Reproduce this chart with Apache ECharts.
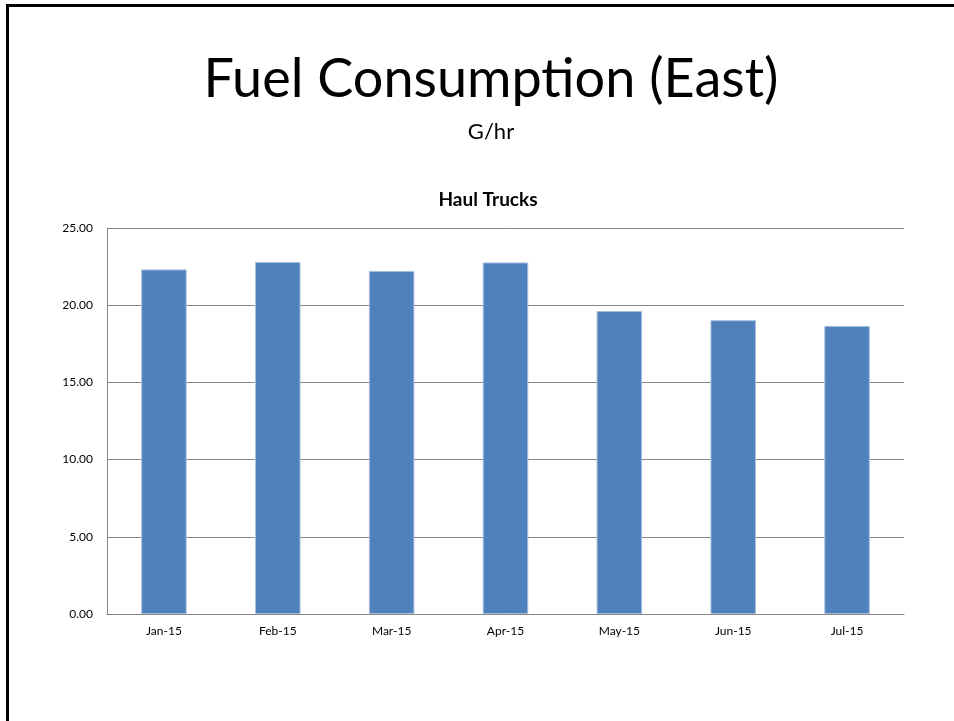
<!DOCTYPE html>
<html>
<head>
<meta charset="utf-8">
<script src="https://cdn.jsdelivr.net/npm/echarts@6/dist/echarts.min.js"></script>
<style>
  html, body { margin: 0; padding: 0; background: #fff; }
  #slide {
    position: relative;
    width: 954px;
    height: 721px;
    overflow: hidden;
  }
  .frame {
    position: absolute;
    left: 6px;
    top: 4px;
    width: 1000px;
    height: 800px;
    border-left: 3px solid #000;
    border-top: 3px solid #000;
  }
  #main {
    position: absolute;
    left: 0;
    top: 0;
    width: 954px;
    height: 721px;
  }
</style>
</head>
<body>
<div id="slide">
  <div class="frame"></div>
  <div id="main"></div>
</div>
<script>
const months = ['Jan-15', 'Feb-15', 'Mar-15', 'Apr-15', 'May-15', 'Jun-15', 'Jul-15']
const haulTrucks = [22.32, 22.8, 22.22, 22.77, 19.62, 19.03, 18.66]
const yTicks = { min: 0, max: 25, interval: 5 }

const font = 'Lato, "Open Sans", sans-serif'
const chart = echarts.init(document.getElementById('main'))

const option = {
  animation: false,
  title: [
    {
      text: 'Fuel Consumption (East)',
      left: 486,
      top: 48,
      textAlign: 'center',
      textStyle: { fontFamily: font, fontSize: 54, fontWeight: 'normal', color: '#000' },
    },
    {
      text: 'G/hr',
      left: 486,
      top: 116,
      textAlign: 'center',
      textStyle: { fontFamily: font, fontSize: 22, fontWeight: 'normal', color: '#000' },
    },
    {
      text: 'Haul Trucks',
      left: 483,
      top: 185,
      textAlign: 'center',
      textStyle: { fontFamily: font, fontSize: 19, fontWeight: 'bold', color: '#000' },
    },
  ],
  grid: {
    left: 107,
    right: 50,
    top: 228,
    bottom: 107,
  },
  xAxis: {
    type: 'category',
    data: months,
    axisLine: { lineStyle: { color: '#868686', width: 1 } },
    axisTick: { show: false },
    axisLabel: { fontFamily: font, fontSize: 12, color: '#000', margin: 11 },
  },
  yAxis: {
    type: 'value',
    min: yTicks.min,
    max: yTicks.max,
    interval: yTicks.interval,
    axisLine: { show: true, lineStyle: { color: '#868686', width: 1 } },
    axisTick: { show: false },
    splitLine: { lineStyle: { color: '#868686', width: 1 } },
    axisLabel: {
      fontFamily: font,
      fontSize: 12,
      color: '#000',
      margin: 14,
      formatter: (v) => v.toFixed(2),
    },
  },
  series: [
    {
      name: 'Haul Trucks',
      type: 'bar',
      data: haulTrucks,
      barWidth: '40%',
      itemStyle: { color: '#4f81bd', borderColor: '#a9c0de', borderWidth: 1 },
    },
  ],
}

chart.setOption(option)
</script>
</body>
</html>
